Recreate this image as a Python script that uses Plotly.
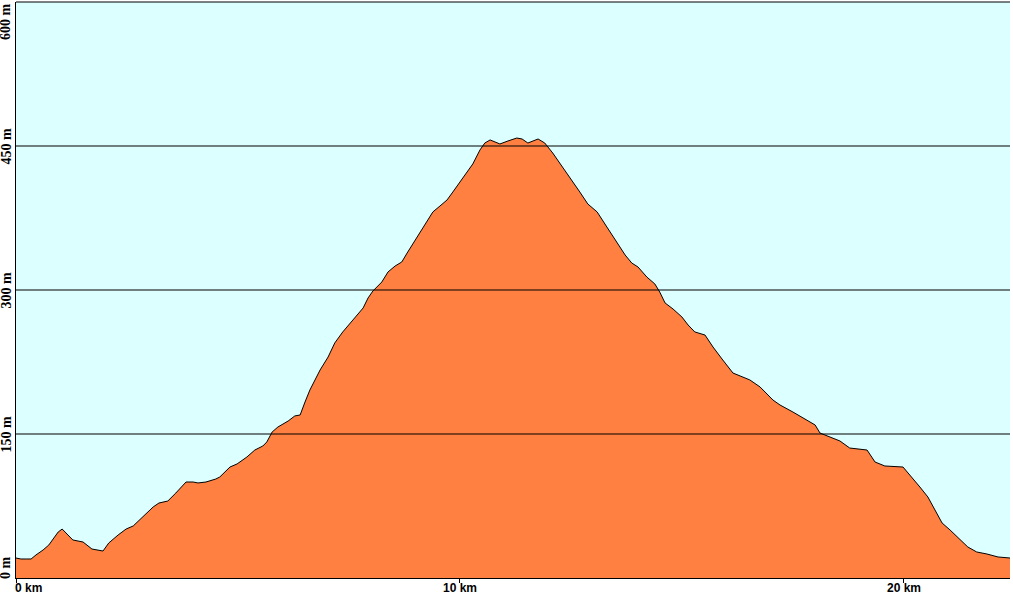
import plotly.graph_objects as go

# Elevation profile (distance in km, elevation in m)
dist_km = [0.00, 0.11, 0.23, 0.34, 0.45, 0.61, 0.74, 0.86, 0.95, 1.04, 1.17, 1.28, 1.51, 1.71, 1.96,
           2.09, 2.30, 2.48, 2.64, 2.86, 3.09, 3.22, 3.42, 3.60, 3.83, 3.99, 4.10, 4.28, 4.50, 4.59,
           4.82, 4.98, 5.20, 5.38, 5.56, 5.65, 5.77, 5.90, 6.13, 6.28, 6.40, 6.51, 6.62, 6.85, 7.03,
           7.18, 7.36, 7.59, 7.82, 7.93, 8.04, 8.24, 8.38, 8.54, 8.69, 8.81, 8.99, 9.21, 9.39, 9.55,
           9.71, 9.84, 10.07, 10.29, 10.45, 10.56, 10.68, 10.90, 11.08, 11.28, 11.40, 11.53, 11.76,
           11.91, 12.09, 12.25, 12.48, 12.70, 12.88, 13.09, 13.31, 13.54, 13.72, 13.87, 14.01, 14.21,
           14.39, 14.50, 14.62, 14.80, 15.00, 15.14, 15.29, 15.52, 15.70, 15.92, 16.15, 16.53, 16.76,
           17.05, 17.21, 17.50, 17.82, 18.00, 18.11, 18.33, 18.56, 18.78, 19.17, 19.35, 19.57, 19.98,
           20.14, 20.36, 20.54, 20.70, 20.86, 21.04, 21.26, 21.44, 21.64, 21.87, 22.12, 22.39]
elev_m = [20.8, 19.8, 19.8, 19.8, 24.0, 29.2, 34.4, 41.7, 47.9, 51.0, 44.8, 39.6, 37.5, 30.2, 28.1,
          36.5, 44.8, 51.0, 54.2, 63.5, 74.0, 78.1, 80.2, 88.5, 100.0, 100.0, 99.0, 100.0, 103.1, 105.2,
          115.6, 118.8, 126.0, 133.3, 137.5, 141.7, 152.1, 157.3, 163.5, 168.8, 169.8, 183.3, 195.8, 216.7, 230.2,
          244.8, 256.3, 268.8, 281.3, 291.7, 299.0, 308.3, 318.8, 325.0, 329.2, 338.5, 352.1, 367.7, 381.3, 387.5,
          393.8, 402.1, 416.7, 431.3, 445.8, 453.1, 456.3, 452.1, 455.2, 458.3, 457.3, 453.1, 457.3,
          453.1, 442.7, 432.3, 416.7, 402.1, 389.6, 381.3, 365.6, 350.0, 336.5, 328.1, 324.0, 313.5,
          306.3, 297.9, 286.5, 280.2, 271.9, 263.5, 256.3, 253.1, 240.6, 227.1, 213.5, 206.3, 199.0,
          185.4, 180.2, 172.9, 164.6, 159.4, 151.0, 146.9, 142.7, 135.4, 133.3, 120.8, 116.7, 115.6,
          107.3, 94.8, 84.4, 70.8, 57.3, 50.0, 40.6, 32.3, 27.1, 25.0, 21.9, 20.8]

x_ticks = [0, 10, 20]
x_tick_labels = ["0 km", "10 km", "20 km"]
y_ticks = [0, 150, 300, 450, 600]
y_tick_labels = ["0 m", "150 m", "300 m", "450 m", "600 m"]

X_MAX = 22.39
Y_MAX = 600

fig = go.Figure()
fig.add_trace(go.Scatter(
    x=dist_km, y=elev_m, mode="lines", fill="tozeroy",
    fillcolor="#FF8040", line=dict(color="black", width=1),
    hoverinfo="skip", showlegend=False,
))

# grid lines drawn above the fill
shapes = []
for yv in y_ticks[1:-1]:
    shapes.append(dict(type="line", xref="paper", yref="y", x0=0, x1=1, y0=yv, y1=yv,
                       line=dict(color="black", width=1), layer="above"))
shapes.append(dict(type="line", xref="paper", yref="paper", x0=0, x1=1, y0=1, y1=1,
                   line=dict(color="black", width=1), layer="above"))

annotations = []
for xv, lab in zip(x_ticks, x_tick_labels):
    annotations.append(dict(
        x=xv, y=0, xref="x", yref="paper", text=lab, showarrow=False,
        xanchor="left" if xv == 0 else "center", yanchor="top",
        xshift=-3 if xv == 0 else 0, yshift=-1,
        font=dict(family="Liberation Sans, Arial", size=12, color="black", weight="bold"),
    ))
for yv, lab in zip(y_ticks, y_tick_labels):
    if yv == 0:
        ya, ys = "bottom", -3
    elif yv == Y_MAX:
        ya, ys = "top", 1
    else:
        ya, ys = "middle", 0
    annotations.append(dict(
        x=0, y=yv, xref="paper", yref="y", text=lab, showarrow=False,
        textangle=-90, xanchor="right", yanchor=ya, yshift=ys, xshift=-1,
        font=dict(family="Liberation Serif, Times New Roman", size=14, color="black", weight="bold"),
    ))

fig.update_layout(
    width=1013, height=595,
    margin=dict(l=16, r=3, t=2, b=17),
    paper_bgcolor="white", plot_bgcolor="#DCFFFF",
    shapes=shapes, annotations=annotations,
    xaxis=dict(range=[0, X_MAX], tickvals=x_ticks, showticklabels=False, ticks="outside",
               ticklen=4, tickcolor="black", showgrid=False, zeroline=False,
               showline=True, linecolor="black", linewidth=1, fixedrange=True),
    yaxis=dict(range=[0, Y_MAX], tickvals=y_ticks, showticklabels=False, ticks="",
               showgrid=False, zeroline=False,
               showline=True, linecolor="black", linewidth=1, fixedrange=True),
)

fig.write_html("out.html", config={"displayModeBar": False},
               post_script="document.body.style.margin='0';document.body.style.overflow='hidden';")
